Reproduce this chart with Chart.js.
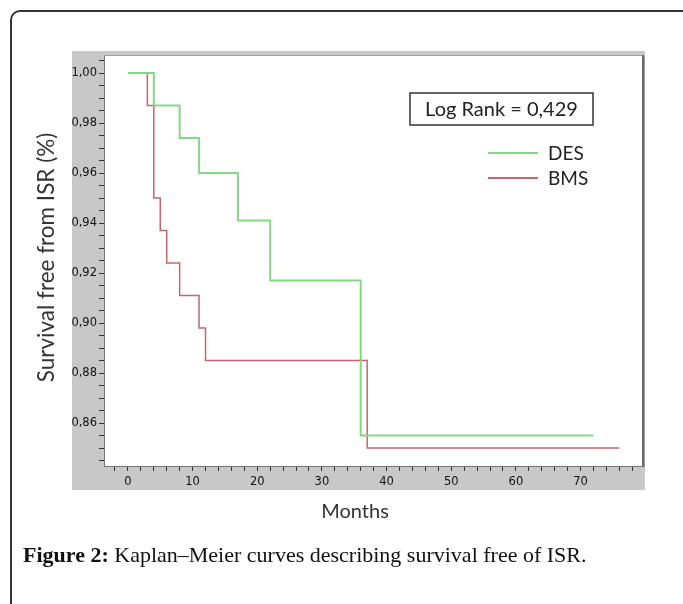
<!DOCTYPE html>
<html>
<head>
<meta charset="utf-8">
<script src="https://cdn.jsdelivr.net/npm/chart.js@4"></script>
<style>
  body { margin: 0; background: #fff; }
  #wrap { position: relative; width: 683px; height: 604px; overflow: hidden; }
  #frame { position: absolute; left: 10px; top: 10px; width: 680px; height: 640px;
           border: 2px solid #333; border-radius: 10px; }
  #chart { position: absolute; left: 0; top: 0; }
  #caption { position: absolute; left: 23px; top: 542px; font-family: "Liberation Serif", serif;
             font-size: 22px; color: #111; white-space: nowrap; }
  #caption b { font-weight: bold; }
</style>
</head>
<body>
<div id="wrap">
  <div id="frame"></div>
  <canvas id="chart" width="683" height="604"></canvas>
  <div id="caption"><b>Figure 2:</b> Kaplan–Meier curves describing survival free of ISR.</div>
</div>
<script>
// Données (mois, survie)
const desMonths = [0, 4, 8, 11, 17, 22, 36, 72];
const desSurvival = [1.0, 0.987, 0.974, 0.960, 0.941, 0.917, 0.855, 0.855];
const bmsMonths = [0, 3, 4, 5, 6, 8, 11, 12, 37, 76];
const bmsSurvival = [1.0, 0.987, 0.950, 0.937, 0.924, 0.911, 0.898, 0.885, 0.850, 0.850];
const seriesNames = ["DES", "BMS"];
const seriesColors = ["#84d884", "#c9646c"];
const logRankText = "Log Rank = 0,429";
const xTitle = "Months";
const yTitle = "Survival free from ISR (%)";

function toPoints(xs, ys) {
    return xs.map((x, i) => ({ x: x, y: ys[i] }));
}

// Fond gris + cadre blanc de la zone de tracé
const framePlugin = {
    id: "frame",
    beforeDraw(chart) {
        const ctx = chart.ctx;
        const a = chart.chartArea;
        ctx.save();
        ctx.fillStyle = "#c8c8c8";
        ctx.fillRect(72, 51, 573, 439);
        ctx.fillStyle = "#fff";
        ctx.fillRect(a.left, a.top, a.right - a.left, a.bottom - a.top);
        ctx.restore();
    },
    afterDraw(chart) {
        const ctx = chart.ctx;
        const a = chart.chartArea;
        ctx.save();
        ctx.strokeStyle = "#a0a0a0";
        ctx.lineWidth = 1;
        ctx.beginPath();
        ctx.moveTo(a.left, a.top + 0.5);
        ctx.lineTo(a.right, a.top + 0.5);
        ctx.stroke();
        ctx.strokeStyle = "#6a6a6a";
        ctx.lineWidth = 2;
        ctx.beginPath();
        ctx.moveTo(a.right + 1, a.top);
        ctx.lineTo(a.right + 1, a.bottom + 1);
        ctx.stroke();
        ctx.strokeStyle = "#9a9a9a";
        ctx.lineWidth = 1;
        ctx.beginPath();
        ctx.moveTo(a.right + 2.5, a.top + 2);
        ctx.lineTo(a.right + 2.5, a.bottom + 2);
        ctx.stroke();

        // titres des axes
        ctx.fillStyle = "#333";
        ctx.font = "20px Lato";
        ctx.textAlign = "center";
        ctx.textBaseline = "middle";
        ctx.fillText(xTitle, 355, 512);
        ctx.translate(47, (a.top + a.bottom) / 2 - 3);
        ctx.rotate(-Math.PI / 2);
        ctx.font = "22.5px Lato";
        ctx.fillText(yTitle, 0, 0);
        ctx.restore();
    }
};

// Légende et encadré du test du log-rank
const notePlugin = {
    id: "note",
    afterDatasetsDraw(chart) {
        const ctx = chart.ctx;
        ctx.save();
        ctx.fillStyle = "#fff";
        ctx.fillRect(410, 93, 183, 32);
        ctx.strokeStyle = "#333";
        ctx.lineWidth = 1.5;
        ctx.strokeRect(410, 93, 183, 32);
        ctx.fillStyle = "#222";
        ctx.font = "20px Lato";
        ctx.textAlign = "center";
        ctx.textBaseline = "middle";
        ctx.fillText(logRankText, 501.5, 110);

        ctx.textAlign = "left";
        ctx.font = "19px Lato";
        chart.data.datasets.forEach((ds, i) => {
            const y = 153 + i * 25;
            ctx.strokeStyle = ds.borderColor;
            ctx.lineWidth = 2;
            ctx.beginPath();
            ctx.moveTo(488, y);
            ctx.lineTo(538, y);
            ctx.stroke();
            ctx.fillStyle = "#222";
            ctx.fillText(ds.label, 548, y + 1);
        });
        ctx.restore();
    }
};

const fmt = v => v.toFixed(2).replace(".", ",");

new Chart(document.getElementById("chart"), {
    type: "line",
    data: {
        datasets: [
            {
                label: seriesNames[0],
                data: toPoints(desMonths, desSurvival),
                borderColor: seriesColors[0],
                borderWidth: 2,
                stepped: true,
                pointRadius: 0,
                fill: false
            },
            {
                label: seriesNames[1],
                data: toPoints(bmsMonths, bmsSurvival),
                borderColor: seriesColors[1],
                borderWidth: 1.5,
                stepped: true,
                pointRadius: 0,
                fill: false
            }
        ]
    },
    options: {
        responsive: false,
        animation: false,
        devicePixelRatio: 1,
        layout: { padding: { left: 30, top: 55, right: 41, bottom: 78 } },
        plugins: {
            legend: { display: false },
            tooltip: { enabled: false }
        },
        scales: {
            x: {
                type: "linear",
                min: -3.7,
                max: 79.5,
                afterFit: s => { s.height = 60; },
                border: { display: true, color: "#777", width: 1 },
                grid: { drawOnChartArea: false, drawTicks: true, tickLength: 5, color: "#333" },
                ticks: {
                    stepSize: 2,
                    autoSkip: false,
                    maxRotation: 0,
                    includeBounds: false,
                    padding: 4,
                    color: "#111",
                    font: { family: "DejaVu Sans", size: 11.5 },
                    callback: v => (Math.round(v) % 10 === 0 ? String(Math.round(v)) : "")
                }
            },
            y: {
                min: 0.8428,
                max: 1.0072,
                afterFit: s => { s.width = 74; },
                border: { display: true, color: "#777", width: 1 },
                grid: { drawOnChartArea: false, drawTicks: true, tickLength: 5, color: "#333" },
                ticks: {
                    stepSize: 0.005,
                    autoSkip: false,
                    includeBounds: false,
                    padding: 2,
                    color: "#111",
                    font: { family: "DejaVu Sans", size: 11.5 },
                    callback: v => (Math.abs(v * 50 - Math.round(v * 50)) < 1e-6 ? fmt(v) : "")
                }
            }
        }
    },
    plugins: [framePlugin, notePlugin]
});
</script>
</body>
</html>
